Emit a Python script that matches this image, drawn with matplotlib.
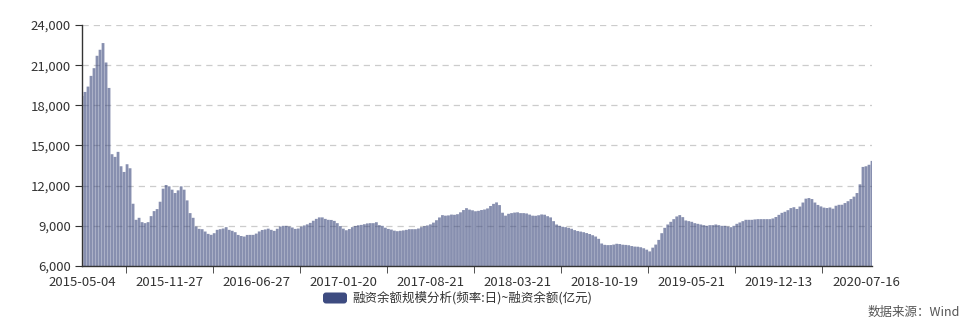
import matplotlib.pyplot as plt
from matplotlib.patches import FancyBboxPatch
from matplotlib.transforms import IdentityTransform
from matplotlib.ticker import FuncFormatter

plt.rcParams['font.family'] = ['Noto Sans CJK SC', 'DejaVu Sans']

# 融资余额(亿元), 约每周一个点
balance = [
    18700, 19000, 19400, 20200, 20775, 21700, 22150, 22650, 21200, 19300,
    14350, 14150, 14525, 13450, 13025, 13600, 13300, 10650, 9450, 9600,
    9275, 9200, 9275, 9725, 10100, 10250, 10800, 11775, 12050, 11950,
    11700, 11450, 11650, 11950, 11700, 10900, 9950, 9600, 8950, 8775,
    8750, 8575, 8400, 8330, 8450, 8700, 8750, 8800, 8900, 8700,
    8630, 8525, 8320, 8240, 8200, 8320, 8325, 8325, 8420, 8580,
    8690, 8730, 8790, 8700, 8625, 8780, 8950, 9000, 9000, 8950,
    8875, 8770, 8800, 8940, 9030, 9110, 9220, 9380, 9520, 9630,
    9630, 9520, 9450, 9440, 9370, 9200, 8980, 8790, 8670, 8760,
    8900, 8990, 9040, 9070, 9120, 9180, 9200, 9200, 9270, 9050,
    9000, 8860, 8770, 8720, 8640, 8600, 8630, 8660, 8700, 8750,
    8750, 8750, 8800, 8900, 8975, 9030, 9110, 9240, 9420, 9625,
    9800, 9760, 9780, 9840, 9825, 9870, 10010, 10180, 10320, 10210,
    10160, 10090, 10120, 10180, 10220, 10300, 10480, 10640, 10750, 10550,
    9980, 9760, 9900, 9950, 9990, 10010, 9950, 9950, 9925, 9840,
    9760, 9750, 9790, 9850, 9830, 9720, 9630, 9350, 9100, 9000,
    8930, 8900, 8850, 8780, 8680, 8610, 8570, 8525, 8460, 8390,
    8300, 8200, 8030, 7680, 7580, 7560, 7565, 7600, 7660, 7640,
    7590, 7575, 7550, 7490, 7450, 7440, 7400, 7325, 7220, 7090,
    7370, 7600, 7950, 8450, 8850, 9100, 9300, 9500, 9700, 9800,
    9650, 9400, 9350, 9300, 9200, 9150, 9100, 9050, 9000, 9050,
    9050, 9100, 9050, 9000, 9000, 8950, 8900, 9000, 9150, 9250,
    9350, 9450, 9450, 9450, 9480, 9500, 9500, 9500, 9500, 9500,
    9550, 9660, 9820, 9970, 10050, 10170, 10325, 10390, 10260, 10440,
    10740, 11030, 11075, 11000, 10740, 10560, 10450, 10360, 10330, 10370,
    10280, 10500, 10570, 10575, 10700, 10840, 11000, 11180, 11450, 12100,
    13400, 13450, 13560, 13850,
]

date_labels = ['2015-05-04', '2015-11-27', '2016-06-27', '2017-01-20', '2017-08-21',
               '2018-03-21', '2018-10-19', '2019-05-21', '2019-12-13', '2020-07-16']
label_step = 29  # 每个日期标签之间的点数

W, H = 965, 327
fig = plt.figure(figsize=(W / 100, H / 100), dpi=100)
ax = fig.add_axes([82 / W, 1 - 266 / H, 790 / W, 241 / H])

x = list(range(len(balance)))
ax.bar(x, balance, width=0.93, color='#3d4a7e', alpha=0.62, linewidth=0,
       snap=False, zorder=2)

ax.set_xlim(0, len(balance) - 1)
ax.set_ylim(6000, 24000)
ax.set_yticks(range(6000, 24001, 3000))
ax.yaxis.set_major_formatter(FuncFormatter(lambda v, p: f'{v:,.0f}'))
ax.yaxis.grid(True, color='#cccccc', linestyle=(0, (5, 4)), linewidth=0.9)
ax.set_axisbelow(True)

label_pos = [i * label_step for i in range(len(date_labels))]
ax.set_xticks(label_pos)
ax.set_xticklabels(date_labels)
ax.set_xticks([p + label_step / 2 for p in label_pos[:-1]], minor=True)
ax.tick_params(axis='x', which='major', length=0, pad=7, labelsize=9.5, labelcolor='#333333')
ax.tick_params(axis='x', which='minor', length=5, color='#333333')
ax.tick_params(axis='y', length=5, color='#333333', labelsize=9.5, labelcolor='#333333', pad=3)

for s in ['top', 'right']:
    ax.spines[s].set_visible(False)
for s in ['left', 'bottom']:
    ax.spines[s].set_color('#333333')
    ax.spines[s].set_linewidth(1)

# 图例
swatch = FancyBboxPatch((323, H - 303.5), 24, 11, boxstyle='round,pad=0,rounding_size=3',
                        facecolor='#3d4b80', edgecolor='none', transform=IdentityTransform())
fig.add_artist(swatch)
fig.text(352 / W, 1 - 298 / H, '融资余额规模分析(频率:日)~融资余额(亿元)',
         ha='left', va='center', fontsize=9, color='#333333')

fig.text(960 / W, 1 - 312 / H, '数据来源：Wind', ha='right', va='center', fontsize=9, color='#555555')

fig.savefig('out.png', dpi=100)
